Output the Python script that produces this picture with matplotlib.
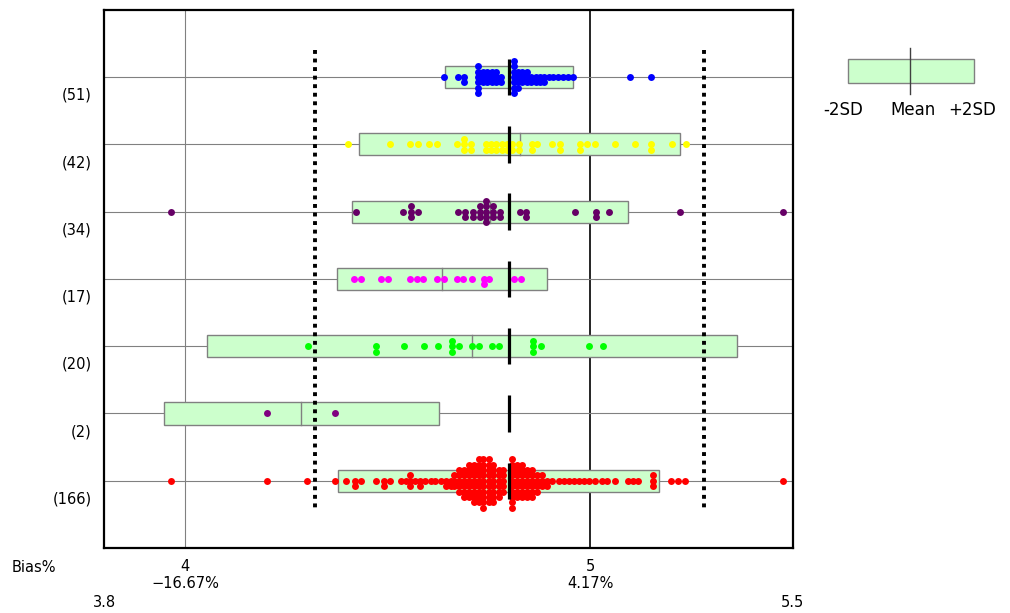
import matplotlib
matplotlib.use('Agg')
import matplotlib.pyplot as plt
from matplotlib.patches import Rectangle
import numpy as np

plt.rcParams['font.family'] = ['DejaVu Sans']

TARGET = 4.8
LIMIT = 0.10      # +-10% dotted lines
STEP = 0.08       # vertical spacing of stacked dots (row units)

labels = ['(51)', '(42)', '(34)', '(17)', '(20)', '(2)', '(166)']
colors = ['#0000ff', '#ffff00', '#660066', '#ff00ff', '#00ff00', '#800080', '#ff0000']
means = [4.800, 4.826, 4.753, 4.634, 4.708, 4.287, 4.774]
sds = [0.079, 0.198, 0.170, 0.130, 0.327, 0.170, 0.198]

# dot columns: value and number of stacked dots
blue_x = [4.638, 4.673, 4.688, 4.723, 4.735, 4.746, 4.757, 4.768, 4.779, 4.812,
          4.821, 4.832, 4.843, 4.853, 4.865, 4.876, 4.886, 4.897, 4.908, 4.920,
          4.932, 4.945, 4.957, 5.097, 5.150]
blue_n = [1, 1, 2, 6, 3, 3, 3, 3, 2, 7,
          4, 3, 3, 2, 2, 2, 2, 1, 1, 1,
          1, 1, 1, 1, 1]

yellow_x = [4.402, 4.505, 4.554, 4.574, 4.603, 4.623, 4.672, 4.689, 4.705, 4.742,
            4.754, 4.768, 4.783, 4.794, 4.808, 4.825, 4.857, 4.869, 4.906, 4.926,
            4.975, 4.992, 5.012, 5.061, 5.111, 5.149, 5.201, 5.236]
yellow_n = [1, 1, 1, 1, 1, 1, 1, 3, 2, 2,
            2, 2, 2, 2, 2, 2, 2, 1, 1, 2,
            2, 1, 1, 1, 1, 2, 1, 1]

purple_x = [3.965, 4.422, 4.539, 4.557, 4.574, 4.674, 4.692, 4.710, 4.727, 4.743,
            4.761, 4.778, 4.827, 4.842, 4.962, 5.013, 5.047, 5.222, 5.475]
purple_n = [1, 1, 1, 3, 1, 1, 2, 2, 3, 5,
            3, 2, 1, 2, 1, 2, 1, 1, 1]

magenta_x = [4.418, 4.435, 4.484, 4.502, 4.556, 4.572, 4.588, 4.622, 4.640, 4.672,
             4.687, 4.707, 4.738, 4.750, 4.812, 4.828]
magenta_n = [1, 1, 1, 1, 1, 1, 1, 1, 1, 1,
             1, 1, 2, 1, 1, 1]

green_x = [4.303, 4.472, 4.541, 4.590, 4.624, 4.659, 4.675, 4.709, 4.725, 4.758,
           4.775, 4.859, 4.878, 4.997, 5.032]
green_n = [1, 2, 1, 1, 1, 3, 1, 1, 1, 1,
           1, 3, 1, 1, 1]

two_x = [4.201, 4.370]
two_n = [1, 1]

red_x = [3.965, 4.202, 4.301, 4.370, 4.398, 4.419, 4.434, 4.470, 4.490, 4.506,
         4.533, 4.545, 4.555, 4.568, 4.580, 4.593, 4.607, 4.618, 4.631, 4.644, 4.656,
         4.664, 4.676, 4.689, 4.701, 4.713, 4.726, 4.735, 4.749, 4.761, 4.775, 4.785,
         4.808, 4.820, 4.832, 4.844, 4.857, 4.869, 4.881, 4.894,
         4.906, 4.922, 4.934, 4.947, 4.959, 4.971, 4.984, 4.996, 5.012, 5.029,
         5.041, 5.061, 5.094, 5.106, 5.119,
         5.154, 5.200, 5.217, 5.235, 5.475]
red_n = [1, 1, 1, 1, 1, 2, 1, 1, 2, 1,
         1, 1, 3, 1, 2, 1, 1, 1, 1, 2, 2,
         3, 5, 6, 7, 8, 9, 10, 9, 8, 6, 5,
         10, 7, 7, 6, 6, 4, 3, 2,
         1, 1, 1, 1, 1, 1, 1, 1, 1, 1,
         1, 1, 1, 1, 1,
         3, 1, 1, 1, 1]

groups = [(blue_x, blue_n), (yellow_x, yellow_n), (purple_x, purple_n),
          (magenta_x, magenta_n), (green_x, green_n), (two_x, two_n), (red_x, red_n)]


def stack(n):
    k = np.arange(n)
    return np.where(k % 2 == 1, (k + 1) // 2, -(k // 2)) * STEP


fig = plt.figure(figsize=(10.10, 6.13), dpi=100)
ax = fig.add_axes([0.103, 0.106, 0.682, 0.878])
ax.set_xlim(3.8, 5.5)
ax.set_ylim(7, -1)
ax.set_yticks([])
ax.set_xticks([4, 5])
ax.set_xticklabels(['4', '5'], fontsize=10.5)
ax.tick_params(axis='x', length=0, pad=8)
for s in ax.spines.values():
    s.set_linewidth(1.6)

ax.axvline(4, color='#808080', lw=0.8, zorder=1)
ax.axvline(5, color='black', lw=1.2, zorder=1)
for lim in [TARGET * (1 - LIMIT), TARGET * (1 + LIMIT)]:
    ax.plot([lim, lim], [-0.4, 6.43], color='black', lw=2.8,
            linestyle=(0, (1, 1.2)), zorder=3)

for r, (gx, gn) in enumerate(groups):
    ax.axhline(r, color='#808080', lw=0.8, zorder=1)
    m, sd = means[r], sds[r]
    ax.add_patch(Rectangle((m - 2 * sd, r - 0.165), 4 * sd, 0.33,
                           facecolor='#ccffcc', edgecolor='#808080', lw=1, zorder=2))
    ax.plot([m, m], [r - 0.165, r + 0.165], color='#808080', lw=1, zorder=2.5)
    xs, ys = [], []
    for v, n in zip(gx, gn):
        xs.extend([v] * n)
        ys.extend(r + stack(n))
    ax.plot(xs, ys, 'o', color=colors[r], ms=5.0, mew=0, zorder=4)
    ax.plot([TARGET, TARGET], [r - 0.27, r + 0.27], color='black', lw=2.3,
            solid_capstyle='butt', zorder=5)
    ax.text(-0.018, r + 0.27, labels[r], transform=ax.get_yaxis_transform(),
            ha='right', va='center', fontsize=10.5)

# bias labels under the axis
xt = ax.get_xaxis_transform()
for v in [4, 5]:
    b = (v - TARGET) / TARGET * 100
    ax.text(v, -0.065, f'{b:.2f}%'.replace('-', '\u2212'), transform=xt,
            ha='center', va='center', fontsize=10.5)
ax.text(3.8, -0.102, '3.8', transform=xt, ha='center', va='center', fontsize=10.5)
ax.text(5.5, -0.102, '5.5', transform=xt, ha='center', va='center', fontsize=10.5)
fig.text(12 / 1010, 1 - 567 / 613, 'Bias%', ha='left', va='center', fontsize=10.5)

# legend key
lax = fig.add_axes([820 / 1010, 1 - 120 / 613, 185 / 1010, 85 / 613])
lax.set_xlim(0, 185)
lax.set_ylim(85, 0)
lax.axis('off')
lax.add_patch(Rectangle((28, 24), 126, 24, facecolor='#ccffcc', edgecolor='#808080', lw=1))
lax.plot([90, 90], [13, 59], color='#404040', lw=1)
lax.text(23, 75, '-2SD', ha='center', va='center', fontsize=12)
lax.text(93, 75, 'Mean', ha='center', va='center', fontsize=12)
lax.text(152, 75, '+2SD', ha='center', va='center', fontsize=12)

fig.savefig('out.png', dpi=100)
